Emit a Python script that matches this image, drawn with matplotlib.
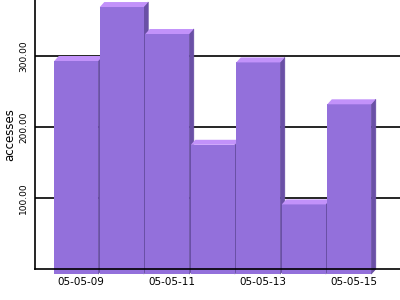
import matplotlib
matplotlib.use("Agg")
import matplotlib.pyplot as plt
from matplotlib.patches import Polygon

days = ["05-05-09", "05-05-10", "05-05-11", "05-05-12", "05-05-13", "05-05-14", "05-05-15"]
accesses = [300, 376, 338, 182, 298, 98, 239]
y_ticks = [100, 200, 300]

FRONT = "#9370DB"
TOP = "#C292FA"
SIDE = "#6A50A6"

fig = plt.figure(figsize=(4, 3), dpi=100)
ax = fig.add_axes([35 / 400, 31 / 300, 365 / 400, 269 / 300])

x = list(range(len(days)))
ax.set_xlim(-1.0055, -1.0055 + 365 / 45.5)
ax.set_ylim(0, 269 / 0.71)

# depth of the fake 3d bars, in pixels -> data units
p0 = ax.transData.transform((0, 0))
p1 = ax.transData.transform((1, 100))
dx = 4.5 / (p1[0] - p0[0])
dy = 5 / ((p1[1] - p0[1]) / 100)
w = 0.965

for v in y_ticks:
    ax.axhline(v, color="black", lw=1.2, zorder=1)

for i, (xi, h) in enumerate(zip(x, accesses)):
    z = 3 + i * 0.1
    l, r = xi - w / 2, xi + w / 2
    ax.bar(xi - dx, h, width=w, bottom=-dy, color=FRONT, zorder=z, clip_on=False)
    top = Polygon([(l - dx, h - dy), (r - dx, h - dy), (r, h), (l, h)], closed=True,
                  facecolor=TOP, edgecolor="none", zorder=z, clip_on=False)
    side = Polygon([(r - dx, -dy), (r, 0), (r, h), (r - dx, h - dy)], closed=True,
                   facecolor=SIDE, edgecolor=SIDE, lw=0.6, zorder=z - 0.01, clip_on=False)
    ax.add_patch(side)
    ax.add_patch(top)

ax.set_xticks(x[::2])
ax.set_xticklabels(days[::2], fontsize=7.5)
ax.set_yticks(y_ticks)
ax.set_yticklabels(["%.2f" % v for v in y_ticks], fontsize=6.5, rotation=90, va="center")
ax.tick_params(length=0)
ax.tick_params(axis="x", pad=5.5)
ax.tick_params(axis="y", pad=5)

for s in ["top", "right"]:
    ax.spines[s].set_visible(False)
for s in ["left", "bottom"]:
    ax.spines[s].set_zorder(10)
    ax.spines[s].set_linewidth(1.2)

fig.text(10 / 400, (31 + 134.5) / 300, "accesses", rotation=90,
         ha="center", va="center", fontsize=8.5)

fig.savefig("out.png", dpi=100)
